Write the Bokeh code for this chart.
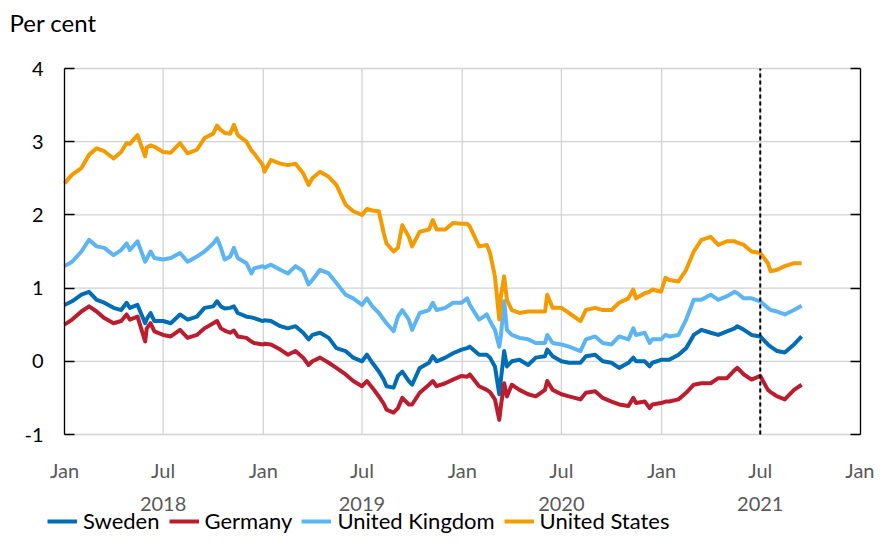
import pandas as pd
from bokeh.plotting import figure
from bokeh.models import (ColumnDataSource, Range1d, FixedTicker, DatetimeAxis,
                          LinearAxis, Legend, LegendItem, Label)
from bokeh.embed import file_html
from bokeh.resources import INLINE

# ---------------- data ----------------
DATES = [
    "2018-01-01", "2018-01-15", "2018-02-01", "2018-02-15", "2018-03-01", "2018-03-15",
    "2018-04-01", "2018-04-15", "2018-04-25", "2018-05-01", "2018-05-15", "2018-05-29",
    "2018-06-01", "2018-06-08", "2018-06-15", "2018-07-01", "2018-07-15", "2018-08-01",
    "2018-08-15", "2018-09-01", "2018-09-15", "2018-10-01", "2018-10-08", "2018-10-15",
    "2018-10-22", "2018-11-01", "2018-11-08", "2018-11-15", "2018-12-01", "2018-12-10",
    "2018-12-15", "2018-12-31",
    "2019-01-03", "2019-01-15", "2019-02-01", "2019-02-15", "2019-03-01", "2019-03-15",
    "2019-03-25", "2019-04-01", "2019-04-15", "2019-05-01", "2019-05-15", "2019-06-01",
    "2019-06-15", "2019-07-01", "2019-07-10", "2019-07-20", "2019-08-01", "2019-08-10",
    "2019-08-15", "2019-08-28", "2019-09-05", "2019-09-13", "2019-09-25", "2019-10-01",
    "2019-10-15", "2019-11-01", "2019-11-08", "2019-11-15", "2019-12-01", "2019-12-15",
    "2019-12-31",
    "2020-01-10", "2020-01-15", "2020-02-01", "2020-02-15", "2020-02-21", "2020-03-01",
    "2020-03-09", "2020-03-12", "2020-03-18", "2020-03-23", "2020-04-01", "2020-04-15",
    "2020-05-01", "2020-05-15", "2020-06-01", "2020-06-05", "2020-06-15", "2020-07-01",
    "2020-07-15", "2020-08-05", "2020-08-15", "2020-09-01", "2020-09-15", "2020-10-01",
    "2020-10-15", "2020-11-01", "2020-11-10", "2020-11-15", "2020-12-01", "2020-12-10",
    "2020-12-15", "2020-12-31",
    "2021-01-08", "2021-01-15", "2021-02-01", "2021-02-15", "2021-03-01", "2021-03-15",
    "2021-04-01", "2021-04-15", "2021-05-01", "2021-05-15", "2021-05-20", "2021-06-01",
    "2021-06-15", "2021-07-01", "2021-07-15", "2021-07-20", "2021-08-01", "2021-08-15",
    "2021-09-01", "2021-09-15",
]

SWEDEN = [
    0.77, 0.82, 0.91, 0.95, 0.84, 0.80, 0.73, 0.70, 0.80, 0.73, 0.77, 0.52,
    0.58, 0.66, 0.55, 0.55, 0.52, 0.64, 0.57, 0.61, 0.73, 0.75, 0.82, 0.75,
    0.72, 0.73, 0.75, 0.66, 0.61, 0.60, 0.59, 0.55,
    0.56, 0.55, 0.48, 0.45, 0.48, 0.39, 0.30, 0.36, 0.39, 0.32, 0.18, 0.14,
    0.05, 0.00, 0.09, -0.02, -0.14, -0.25, -0.34, -0.36, -0.20, -0.14, -0.27, -0.32,
    -0.09, -0.02, 0.07, 0.00, 0.05, 0.11, 0.16,
    0.18, 0.20, 0.09, 0.09, 0.05, -0.07, -0.45, -0.25, 0.14, -0.07, 0.00, 0.02,
    -0.05, 0.05, 0.07, 0.16, 0.07, 0.00, -0.02, -0.02, 0.07, 0.09, 0.00, -0.02,
    -0.09, -0.02, 0.05, 0.00, 0.00, -0.07, -0.02, 0.02,
    0.02, 0.02, 0.09, 0.18, 0.36, 0.43, 0.39, 0.36, 0.41, 0.45, 0.48, 0.43,
    0.36, 0.34, 0.23, 0.20, 0.14, 0.12, 0.23, 0.34,
]

GERMANY = [
    0.50, 0.57, 0.68, 0.75, 0.68, 0.59, 0.52, 0.55, 0.64, 0.57, 0.61, 0.27,
    0.45, 0.52, 0.41, 0.36, 0.34, 0.43, 0.32, 0.36, 0.45, 0.52, 0.55, 0.45,
    0.42, 0.39, 0.42, 0.34, 0.32, 0.27, 0.25, 0.23,
    0.24, 0.23, 0.16, 0.09, 0.14, 0.05, -0.05, 0.00, 0.05, -0.02, -0.09, -0.18,
    -0.27, -0.34, -0.27, -0.36, -0.48, -0.58, -0.66, -0.70, -0.64, -0.50, -0.59, -0.59,
    -0.43, -0.32, -0.27, -0.34, -0.30, -0.25, -0.20,
    -0.21, -0.18, -0.34, -0.39, -0.42, -0.52, -0.80, -0.61, -0.30, -0.48, -0.32, -0.39,
    -0.45, -0.48, -0.39, -0.27, -0.39, -0.45, -0.48, -0.52, -0.43, -0.41, -0.50, -0.55,
    -0.59, -0.61, -0.50, -0.57, -0.55, -0.64, -0.59, -0.57,
    -0.55, -0.55, -0.52, -0.43, -0.32, -0.30, -0.30, -0.23, -0.23, -0.12, -0.09, -0.18,
    -0.25, -0.20, -0.39, -0.42, -0.48, -0.52, -0.39, -0.32,
]

UNITED_KINGDOM = [
    1.30, 1.36, 1.50, 1.66, 1.57, 1.55, 1.45, 1.52, 1.61, 1.52, 1.64, 1.36,
    1.40, 1.50, 1.41, 1.39, 1.41, 1.48, 1.36, 1.43, 1.50, 1.61, 1.68, 1.55,
    1.39, 1.43, 1.55, 1.41, 1.34, 1.20, 1.27, 1.30,
    1.28, 1.32, 1.25, 1.20, 1.30, 1.23, 1.05, 1.11, 1.25, 1.20, 1.07, 0.91,
    0.86, 0.77, 0.86, 0.75, 0.66, 0.57, 0.52, 0.41, 0.61, 0.70, 0.57, 0.43,
    0.66, 0.70, 0.80, 0.70, 0.73, 0.80, 0.80,
    0.86, 0.77, 0.57, 0.64, 0.55, 0.43, 0.20, 0.35, 0.82, 0.43, 0.36, 0.32,
    0.30, 0.25, 0.25, 0.36, 0.25, 0.23, 0.20, 0.14, 0.30, 0.34, 0.25, 0.23,
    0.34, 0.30, 0.45, 0.36, 0.39, 0.25, 0.30, 0.30,
    0.36, 0.34, 0.36, 0.57, 0.84, 0.84, 0.91, 0.84, 0.89, 0.95, 0.93, 0.86,
    0.86, 0.82, 0.73, 0.70, 0.68, 0.64, 0.70, 0.76,
]

UNITED_STATES = [
    2.43, 2.55, 2.64, 2.82, 2.91, 2.87, 2.77, 2.86, 2.98, 2.97, 3.09, 2.80,
    2.92, 2.95, 2.93, 2.86, 2.85, 2.98, 2.84, 2.89, 3.05, 3.11, 3.22, 3.16,
    3.12, 3.11, 3.23, 3.09, 3.00, 2.88, 2.84, 2.68,
    2.59, 2.75, 2.70, 2.68, 2.70, 2.57, 2.41, 2.50, 2.59, 2.52, 2.41, 2.14,
    2.05, 2.00, 2.08, 2.06, 2.05, 1.75, 1.61, 1.50, 1.55, 1.86, 1.70, 1.57,
    1.77, 1.80, 1.93, 1.80, 1.80, 1.89, 1.88,
    1.88, 1.84, 1.57, 1.59, 1.48, 1.16, 0.57, 0.89, 1.16, 0.84, 0.70, 0.66,
    0.68, 0.68, 0.68, 0.91, 0.73, 0.73, 0.66, 0.55, 0.70, 0.73, 0.70, 0.70,
    0.80, 0.86, 0.98, 0.86, 0.93, 0.95, 0.98, 0.95,
    1.14, 1.11, 1.09, 1.25, 1.50, 1.66, 1.70, 1.59, 1.64, 1.64, 1.62, 1.59,
    1.50, 1.48, 1.34, 1.23, 1.25, 1.30, 1.34, 1.34,
]

SERIES_NAMES = ["Sweden", "Germany", "United Kingdom", "United States"]
SERIES_COLORS = ["#006DB5", "#BA1D2E", "#5CB5F2", "#F39B00"]

TICK_DATES = ["2018-01-01", "2018-07-01", "2019-01-01", "2019-07-01", "2020-01-01",
              "2020-07-01", "2021-01-01", "2021-07-01", "2022-01-01"]
TICK_LABELS = ["Jan", "Jul", "Jan", "Jul", "Jan", "Jul", "Jan", "Jul", "Jan"]
YEAR_DATES = ["2018-07-01", "2019-07-01", "2020-07-01", "2021-07-01"]
YEAR_LABELS = ["2018", "2019", "2020", "2021"]
Y_TICKS = [-1, 0, 1, 2, 3, 4]
Y_LABELS = ["-1", "0", "1", "2", "3", "4"]
MARKER_DATE = "2021-07-01"
X_START, X_END = "2018-01-01", "2022-01-01"
UNIT_TEXT = "Per cent"


def ms(d):
    return pd.Timestamp(d).value / 1e6


# ---------------- layout (pixels) ----------------
W, H = 874, 537
PLOT_L, PLOT_R = 64, 860      # pixel x of X_START / X_END
PLOT_T, PLOT_B = 68, 434      # pixel y of top / bottom y tick
FONT = "Lato"

x0, x1 = ms(X_START), ms(X_END)
ppx = (x1 - x0) / (PLOT_R - PLOT_L)
y_lo, y_hi = Y_TICKS[0], Y_TICKS[-1]
ppy = (y_hi - y_lo) / (PLOT_B - PLOT_T)

p = figure(width=W, height=H, x_axis_type="datetime", title=None,
           x_axis_location=None, y_axis_location=None,
           x_range=Range1d(x0 - PLOT_L * ppx, x1 + (W - PLOT_R) * ppx),
           y_range=Range1d(y_lo - (H - PLOT_B) * ppy, y_hi + PLOT_T * ppy),
           output_backend="svg", toolbar_location=None, min_border=0)
p.outline_line_color = None
p.background_fill_color = "white"
p.border_fill_color = "white"
p.grid.visible = False

tick_ms = [ms(d) for d in TICK_DATES]
GRID = "#D3D3D3"

# grid lines (limited to the data box)
p.segment(x0=tick_ms, y0=[y_lo] * len(tick_ms), x1=tick_ms, y1=[y_hi] * len(tick_ms),
          line_color=GRID, line_width=1.3, level="underlay")
p.segment(x0=[x0] * len(Y_TICKS), y0=Y_TICKS, x1=[x1] * len(Y_TICKS), y1=Y_TICKS,
          line_color=GRID, line_width=1.3, level="underlay")

# series
source = ColumnDataSource(dict(
    date=pd.to_datetime(DATES),
    se=SWEDEN, de=GERMANY, uk=UNITED_KINGDOM, us=UNITED_STATES,
))
renderers = []
for col, color in zip(["se", "de", "uk", "us"], SERIES_COLORS):
    renderers.append(p.line("date", col, source=source, line_color=color,
                            line_width=4, line_join="round"))

# dashed marker
p.segment(x0=[ms(MARKER_DATE)], y0=[y_lo], x1=[ms(MARKER_DATE)], y1=[y_hi],
          line_color="black", line_width=2, line_dash="4 3")

# axes, fixed at the edges of the data box
ya = LinearAxis(fixed_location=x0, bounds=(y_lo, y_hi), ticker=FixedTicker(ticks=Y_TICKS),
                major_label_overrides={t: lab for t, lab in zip(Y_TICKS, Y_LABELS)},
                axis_line_color="black", axis_line_width=1.3,
                major_tick_line_color="black", major_tick_line_width=1.3,
                major_tick_in=10, major_tick_out=0, minor_tick_line_color=None,
                major_label_standoff=21, major_label_text_font=FONT,
                major_label_text_font_size="20px", major_label_text_color="#000000")
p.add_layout(ya, "left")

ra = LinearAxis(fixed_location=x1, bounds=(y_lo, y_hi), ticker=FixedTicker(ticks=Y_TICKS),
                major_label_overrides={t: "" for t in Y_TICKS},
                axis_line_color="black", axis_line_width=1.3,
                major_tick_line_color="black", major_tick_line_width=1.3,
                major_tick_in=10, major_tick_out=0, minor_tick_line_color=None,
                major_label_standoff=0, major_label_text_font_size="1px")
p.add_layout(ra, "right")

xa = DatetimeAxis(fixed_location=y_lo, bounds=(x0, x1), ticker=FixedTicker(ticks=tick_ms),
                  major_label_overrides={t: lab for t, lab in zip(tick_ms, TICK_LABELS)},
                  axis_line_color=None, major_tick_line_color=None,
                  minor_tick_line_color=None, major_tick_in=0, major_tick_out=0,
                  major_label_standoff=23, major_label_text_font=FONT,
                  major_label_text_font_size="20px", major_label_text_color="#595959")
p.add_layout(xa, "below")

year_ms = [ms(d) for d in YEAR_DATES]
xa2 = DatetimeAxis(fixed_location=y_lo, bounds=(x0, x1), ticker=FixedTicker(ticks=year_ms),
                   major_label_overrides={t: lab for t, lab in zip(year_ms, YEAR_LABELS)},
                   axis_line_color=None, major_tick_line_color=None,
                   minor_tick_line_color=None, major_tick_in=0, major_tick_out=0,
                   major_label_standoff=62, major_label_text_font=FONT,
                   major_label_text_font_size="20px", major_label_text_color="#595959")
p.add_layout(xa2, "below")

# unit text
p.add_layout(Label(x=9, y=H - 22, x_units="screen", y_units="screen", text=UNIT_TEXT,
                   text_font=FONT, text_font_size="24px", text_color="#000000",
                   text_baseline="middle", text_align="left"))

legend = Legend(items=[LegendItem(label=n, renderers=[r]) for n, r in zip(SERIES_NAMES, renderers)],
                orientation="horizontal", location=(47, 3),
                glyph_width=30, glyph_height=20, label_standoff=6, spacing=9,
                padding=0, margin=0, label_text_font=FONT, label_text_font_size="22px",
                label_text_color="#000000", background_fill_alpha=0,
                border_line_color=None)
p.add_layout(legend)

open("out.html", "w").write(file_html(p, INLINE))
